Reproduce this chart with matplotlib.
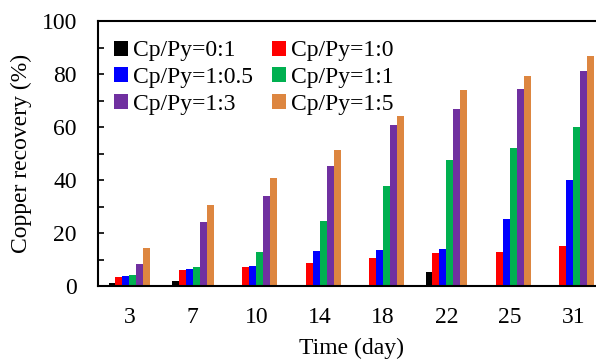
import numpy as np
import matplotlib.pyplot as plt
from matplotlib.ticker import MultipleLocator

plt.rcParams['font.family'] = ['Liberation Serif', 'DejaVu Serif']
plt.rcParams['font.size'] = 17

# Data
days = ['3', '7', '10', '14', '18', '22', '25', '31']
labels = ['Cp/Py=0:1', 'Cp/Py=1:0', 'Cp/Py=1:0.5', 'Cp/Py=1:1', 'Cp/Py=1:3', 'Cp/Py=1:5']
r_0_1 = [1.0, 2.0, 0.5, 0.4, 0.6, 5.5, 0.5, 0.5]
r_1_0 = [3.6, 5.9, 7.1, 8.6, 10.6, 12.5, 13.0, 15.2]
r_1_05 = [4.0, 6.4, 7.5, 13.3, 13.6, 14.2, 25.3, 40.0]
r_1_1 = [4.3, 7.3, 12.7, 24.7, 37.7, 47.6, 52.0, 60.0]
r_1_3 = [8.2, 24.3, 34.0, 45.5, 61.0, 66.8, 74.4, 81.3]
r_1_5 = [14.4, 30.8, 40.7, 51.5, 64.2, 74.2, 79.2, 86.8]
colors = ['#000000', '#FF0000', '#0000FF', '#00B050', '#7030A0', '#DD8640']

series = [r_0_1, r_1_0, r_1_05, r_1_1, r_1_3, r_1_5]

fig = plt.figure(figsize=(5.96, 3.59), dpi=100)
ax = fig.add_axes([0.164, 0.203, 0.851, 0.738])

x = np.arange(len(days))
w = 0.11
bars = []
for i, (vals, lab, c) in enumerate(zip(series, labels, colors)):
    bars.append(ax.bar(x + (i - 2.5) * w, vals, width=w, color=c, label=lab))

ax.set_xlim(-0.5, len(days) - 0.5)
ax.set_ylim(0, 100)
ax.set_xticks(x)
ax.set_xticklabels(days)
ax.yaxis.set_major_locator(MultipleLocator(20))
ax.yaxis.set_minor_locator(MultipleLocator(10))
ax.tick_params(axis='x', length=0, pad=15)
ax.tick_params(axis='y', which='both', direction='in', length=4, width=1.2, pad=15)
for s in ax.spines.values():
    s.set_linewidth(1.5)
ax.spines['right'].set_visible(False)

ax.set_xlabel('Time (day)', labelpad=7)
ax.set_ylabel('Copper recovery (%)', labelpad=7)

# legend filled row by row
order = [0, 2, 4, 1, 3, 5]
ax.legend([bars[i] for i in order], [labels[i] for i in order], ncol=2,
          frameon=False, loc='upper left', bbox_to_anchor=(0.0, 0.99),
          handlelength=0.6, handleheight=0.6, handletextpad=0.2,
          columnspacing=0.8, labelspacing=0.25, borderaxespad=0.3)

plt.savefig('out.png', dpi=100)
